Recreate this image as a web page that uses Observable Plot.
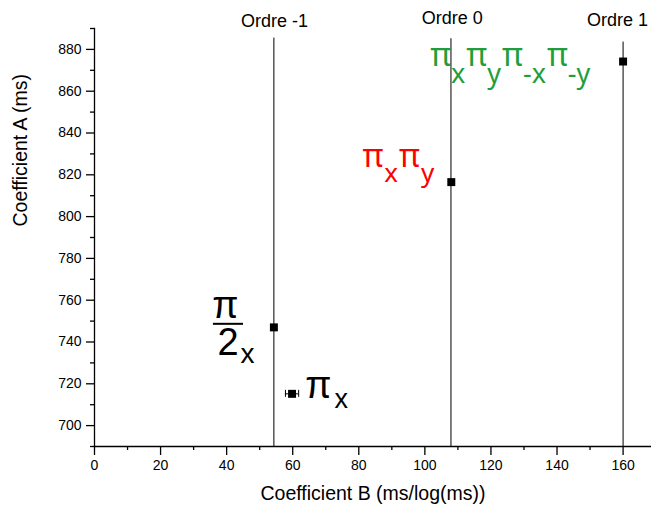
<!DOCTYPE html>
<html>
<head>
<meta charset="utf-8">
<script src="https://cdn.jsdelivr.net/npm/d3@7"></script>
<script src="https://cdn.jsdelivr.net/npm/@observablehq/plot@0.6"></script>
<style>
  html, body { margin: 0; padding: 0; background: #fff; }
  svg { display: block; }
</style>
</head>
<body>
<div id="chart"></div>
<script>
// ---- data ----
const xTitle = "Coefficient B (ms/log(ms))";
const yTitle = "Coefficient A (ms)";
const xTicks = [0, 20, 40, 60, 80, 100, 120, 140, 160];
const xMinor = [10, 30, 50, 70, 90, 110, 130, 150];
const yTicks = [700, 720, 740, 760, 780, 800, 820, 840, 860, 880];
const yMinor = [690, 710, 730, 750, 770, 790, 810, 830, 850, 870, 890];

const orderNames = ["Ordre -1", "Ordre 0", "Ordre 1"];
const orderB = [54.3, 107.9, 160];
const orderTopA = [885.4, 885.1, 883.5];
const orderLabelB = [54.5, 108.3, 158.3];
const orderLabelA = [893.3, 894.7, 893.9];

const pointB = [54.3, 59.8, 108, 160];
const pointA = [747, 715.2, 816.5, 874.2];
const pointBErr = [0, 2.0, 0, 0];
const pointAErr = [0, 1.0, 0, 0];

// annotations (subscripts written as _{...})
const annText = ["π_{x}", "π", "2_{x}", "π_{x}π_{y}", "π_{x}π_{y}π_{-x}π_{-y}"];
const annB = [63.8, 39.6, 37.2, 81.1, 101.6];
const annA = [718.8, 757.1, 739.4, 828.4, 877.2];
const annColor = ["#000000", "#000000", "#000000", "#ff0000", "#1f9e3c"];
const annAnchor = ["start", "middle", "start", "start", "start"];
const annFont = ["Liberation Sans, Arial", "Liberation Sans, Arial", "Liberation Sans, Arial", "Noto Sans", "Noto Sans"];
const annSize = [38, 38, 38, 32, 32];
const annSubSize = [27, 28, 28, 26, 27];
const annSubShift = [10, 8, 8, 15, 17];
const annSubDx = [3, 0, 2, 1, 0];
const annBaseDx = [0, 0, 0, 1, 1];

const fracB1 = [36.0];
const fracB2 = [45.1];
const fracA = [748.7];

// ---- tables ----
const orders = orderNames.map((name, i) => ({name, b: orderB[i], top: orderTopA[i], lb: orderLabelB[i], la: orderLabelA[i]}));
const points = pointB.map((b, i) => ({b, a: pointA[i], be: pointBErr[i], ae: pointAErr[i]}));
const errs = points.filter(d => d.be > 0 || d.ae > 0);
const anns = annText.map((t, i) => ({i, t, b: annB[i], a: annA[i]}));
const frac = fracB1.map((b1, i) => ({b1, b2: fracB2[i], a: fracA[i]}));

const font = "Liberation Sans, Arial, sans-serif";

const annMarks = anns.map(d => Plot.text([d], {
  x: "b", y: "a", text: "t",
  fill: annColor[d.i], fontSize: annSize[d.i], fontFamily: annFont[d.i],
  textAnchor: annAnchor[d.i]
}));

const plot = Plot.plot({
  width: 651, height: 511,
  marginLeft: 94, marginRight: 0, marginTop: 28, marginBottom: 65,
  style: {fontFamily: font, fontSize: "14px", color: "#000", background: "#fff"},
  x: {domain: [0, 168.6]},
  y: {domain: [690, 890]},
  marks: [
    Plot.frame({anchor: "left", strokeWidth: 1.3}),
    Plot.frame({anchor: "bottom", strokeWidth: 1.3}),
    Plot.axisX(xTicks, {tickSize: 9, tickPadding: 5, fontSize: 14, label: null, strokeWidth: 1.3}),
    Plot.axisX(xMinor, {tickSize: 4, text: null, label: null, strokeWidth: 1.3}),
    Plot.axisY(yTicks, {tickSize: 8, tickPadding: 5, fontSize: 14, label: null, strokeWidth: 1.3}),
    Plot.axisY(yMinor, {tickSize: 4, text: null, label: null, strokeWidth: 1.3}),
    Plot.text([xTitle], {frameAnchor: "bottom", dy: 53, fontSize: 19.5}),
    Plot.text([yTitle], {frameAnchor: "left", rotate: -90, dx: -74, dy: -11, fontSize: 19.5}),
    Plot.ruleX(orders, {x: "b", y1: 690, y2: "top", stroke: "#000", strokeWidth: 1}),
    Plot.text(orders, {x: "lb", y: "la", text: "name", fontSize: 18}),
    Plot.ruleY(errs, {y: "a", x1: d => d.b - d.be, x2: d => d.b + d.be, stroke: "#000"}),
    Plot.ruleX(errs, {x: d => d.b - d.be, y1: "a", y2: "a", insetTop: -3.5, insetBottom: -3.5, stroke: "#000"}),
    Plot.ruleX(errs, {x: d => d.b + d.be, y1: "a", y2: "a", insetTop: -3.5, insetBottom: -3.5, stroke: "#000"}),
    Plot.ruleX(errs, {x: "b", y1: d => d.a - d.ae, y2: d => d.a + d.ae, stroke: "#000"}),
    Plot.dot(points, {x: "b", y: "a", symbol: "square", r: 4.5, fill: "#000", stroke: "none"}),
    Plot.ruleY(frac, {y: "a", x1: "b1", x2: "b2", stroke: "#000", strokeWidth: 2}),
    ...annMarks
  ]
});

// turn _{...} into subscript tspans
d3.select(plot).selectAll("text").each(function() {
  const t = this.textContent;
  if (!t.includes("_{")) return;
  const i = annText.indexOf(t);
  if (i < 0) return;
  const parts = t.split(/_\{([^}]*)\}/);
  const sel = d3.select(this);
  sel.text(null);
  let shifted = false;
  parts.forEach((p, k) => {
    if (p === "") return;
    const isSub = k % 2 === 1;
    const ts = sel.append("tspan").text(p);
    if (isSub) {
      ts.attr("font-size", annSubSize[i]).attr("dy", shifted ? 0 : annSubShift[i]).attr("dx", annSubDx[i]);
      shifted = true;
    } else {
      if (shifted) { ts.attr("dy", -annSubShift[i]); shifted = false; }
      if (k > 0) ts.attr("dx", annBaseDx[i]);
    }
  });
});

document.getElementById("chart").appendChild(plot);
</script>
</body>
</html>
